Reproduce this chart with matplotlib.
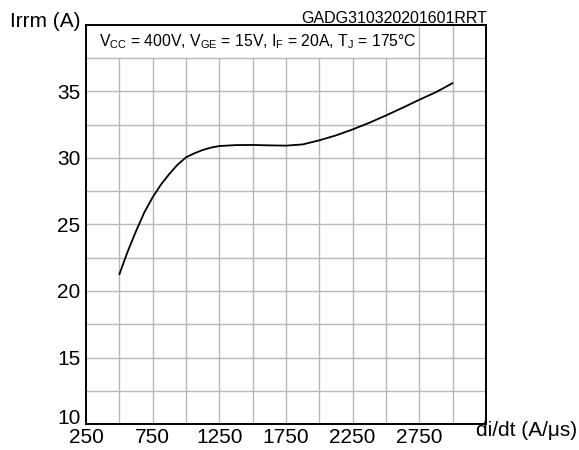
import matplotlib
matplotlib.use("Agg")
import matplotlib.pyplot as plt

plt.rcParams['font.family'] = ['Liberation Sans', 'DejaVu Sans']
plt.rcParams['mathtext.fontset'] = 'custom'
plt.rcParams['mathtext.rm'] = 'Liberation Sans'
plt.rcParams['mathtext.it'] = 'Liberation Sans'

didt = [500, 562, 625, 687, 750, 812, 875, 937, 1000, 1062, 1125, 1187, 1250,
        1375, 1500, 1625, 1750, 1875, 2000, 2125, 2250, 2375, 2500, 2625,
        2750, 2875, 3000]
irrm = [21.25, 22.95, 24.5, 25.9, 27.05, 28.0, 28.8, 29.5, 30.05, 30.35, 30.6,
        30.78, 30.9, 30.97, 30.98, 30.95, 30.93, 31.02, 31.33, 31.7, 32.15,
        32.65, 33.2, 33.78, 34.38, 34.95, 35.63]
xticks = [250, 750, 1250, 1750, 2250, 2750]
yticks = [10, 15, 20, 25, 30, 35]

fig = plt.figure(figsize=(5.79, 4.5), dpi=100)
ax = fig.add_axes([86/579, 1-424/450, 400/579, 399/450])
ax.set_xlim(250, 3250)
ax.set_ylim(10, 40)

gc = '#b8b8b8'
for xv in range(500, 3250, 250):
    top = 40 if xv >= 2750 else 37.5
    ax.plot([xv, xv], [10, top], color=gc, lw=1.0, zorder=1, solid_capstyle='butt')
for yv in [12.5, 15, 17.5, 20, 22.5, 25, 27.5, 30, 32.5, 35, 37.5]:
    ax.plot([250, 3250], [yv, yv], color=gc, lw=1.0, zorder=1, solid_capstyle='butt')

ax.plot(didt, irrm, color='black', lw=1.3, zorder=3,
        solid_joinstyle='round', solid_capstyle='round')

ax.text(347, 38.42,
        r'V$_{\mathrm{CC}}$ = 400V, V$_{\mathrm{GE}}$ = 15V, I$_{\mathrm{F}}$ = 20A, T$_{\mathrm{J}}$ = 175°C',
        fontsize=11.3, va='baseline', ha='left', zorder=4)

ax.set_xticks(xticks)
ax.set_yticks(yticks)
ax.set_xticklabels([str(v) for v in xticks], fontsize=15)
ax.set_yticklabels([str(v) for v in yticks], fontsize=15)
ax.tick_params(axis='x', length=0, pad=3)
ax.tick_params(axis='y', length=0, pad=4)
ax.get_yticklabels()[0].set_va('baseline')
for s in ax.spines.values():
    s.set_linewidth(1.4)

fig.text(10/579, 1-27/450, 'Irrm (A)', fontsize=15, ha='left', va='baseline')
fig.text(487/579, 1-23/450, 'GADG310320201601RRT', fontsize=11.5, ha='right', va='baseline')
fig.text(476/579, 1-436/450, 'di/dt (A/μs)', fontsize=15, ha='left', va='baseline')

fig.savefig('out.png', dpi=100)
